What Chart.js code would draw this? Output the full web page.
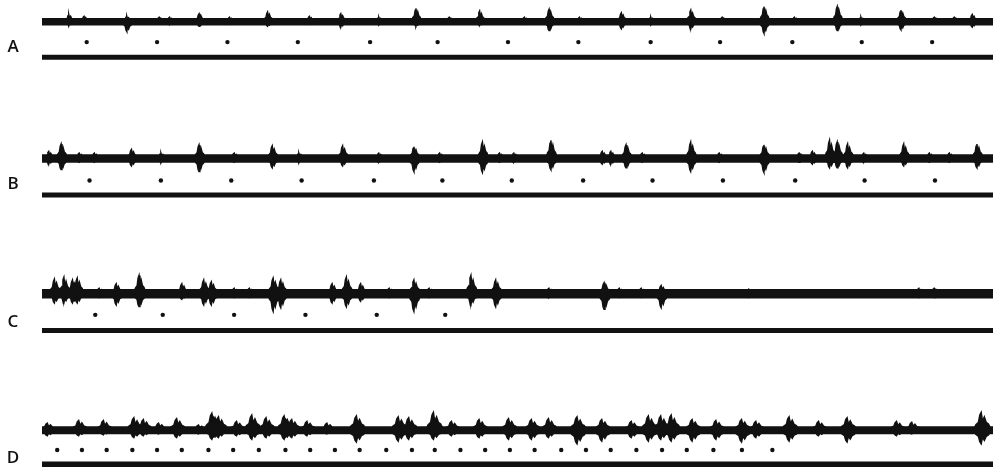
<!DOCTYPE html>
<html>
<head>
<meta charset="utf-8">
<script src="https://cdn.jsdelivr.net/npm/chart.js@4/dist/chart.umd.min.js"></script>
<style>
  html, body { margin: 0; padding: 0; background: #fff; }
  body { width: 998px; height: 471px; position: relative; overflow: hidden; }
  canvas { position: absolute; left: 0; }
  .lbl { position: absolute; width: 24px; text-align: center; font-family: 'Open Sans', sans-serif;
         font-size: 17px; font-weight: 600; color: #111; line-height: 17px; }
</style>
</head>
<body>
<div id="wrap"></div>
<script>
'use strict';

// x = position along the sweep, in % of sweep length
// y = deflection from the trace midline

const panelLabels = ['A', 'B', 'C', 'D'];

const sweepStart = 0;
const sweepEnd = 100;

// --- A ---
const aDotTimes = [4.7, 12.1, 19.5, 26.9, 34.5, 41.6, 49.0, 56.4, 64.0, 71.3, 78.9, 86.2, 93.6];
const aBurstTimes = [2.9, 4.5, 9.0, 12.4, 13.5, 16.6, 19.8, 23.8, 28.2, 31.5, 35.5, 39.4, 42.9, 46.1, 50.8,
  53.4, 56.6, 61.0, 64.1, 68.3, 71.6, 76.0, 79.2, 83.7, 86.2, 90.4, 93.9, 96.0, 97.9];
const aBurstUp = [8, 6, 6, 5, 5, 9, 5, 11, 6, 9, 5, 15, 5, 12, 5, 14, 5, 10, 5, 13, 5, 17, 5, 17, 5, 13, 5, 5, 8];
const aBurstDown = [4, 3, 11, 3, 3, 5, 3, 5, 3, 6, 3, 5, 3, 4, 3, 10, 3, 8, 3, 8, 3, 13, 3, 10, 3, 9, 3, 3, 6];

// --- B ---
const bDotTimes = [5.0, 12.5, 19.9, 27.3, 34.9, 42.1, 49.4, 56.9, 64.2, 71.6, 79.2, 86.5, 93.9];
const bBurstTimes = [0.8, 2.1, 4.0, 5.6, 9.5, 12.6, 16.6, 20.3, 24.3, 27.1, 31.7, 35.5, 39.2, 41.9, 46.4,
  48.2, 49.7, 53.6, 59.0, 59.9, 61.5, 63.2, 68.3, 71.3, 76.0, 79.7, 81.1, 82.9, 83.7, 84.8,
  86.5, 90.7, 93.4, 95.5, 98.4];
const bBurstUp = [8, 16, 6, 6, 10, 6, 15, 6, 14, 6, 14, 6, 13, 6, 18, 6, 6, 20, 8, 8,
  15, 6, 18, 6, 15, 6, 8, 20, 18, 16, 6, 16, 6, 6, 16];
const bBurstDown = [6, 12, 4, 4, 8, 4, 14, 4, 10, 4, 8, 4, 14, 4, 15, 4, 4, 12, 6, 6,
  10, 4, 14, 4, 15, 4, 6, 10, 10, 10, 4, 8, 4, 4, 10];

// --- C ---
const cDotTimes = [5.6, 12.7, 20.2, 27.7, 35.2, 42.4];
const cBurstTimes = [1.4, 2.4, 3.3, 3.8, 6.1, 7.9, 10.3, 14.8, 17.1, 17.9, 20.3, 21.9, 24.4, 25.2, 30.6,
  32.1, 33.6, 36.6, 39.2, 40.8, 45.2, 47.8, 53.4, 59.2, 60.8, 63.1, 65.2, 74.4, 92.3, 93.9];
const cBurstUp = [16, 18, 15, 17, 6, 11, 20, 11, 15, 13, 6, 6, 17, 15, 11, 18, 11, 6, 15, 6,
  20, 15, 6, 12, 6, 6, 9, 5, 6, 6];
const cBurstDown = [10, 10, 10, 10, 4, 12, 14, 6, 12, 12, 4, 4, 19, 15, 10, 14, 8, 4, 19, 4,
  12, 14, 4, 17, 4, 4, 15, 4, 4, 4];

// --- D ---
const dDotTimes = [1.6, 4.2, 6.8, 9.5, 12.1, 14.7, 17.5, 20.1, 22.8, 25.6, 28.2, 30.8, 33.4, 36.2, 38.9,
  41.3, 44.0, 46.6, 49.2, 51.8, 54.6, 57.2, 59.8, 62.5, 65.2, 67.8, 70.6, 73.6, 76.8];
const dBurstTimes = [0.7, 4.0, 6.6, 9.8, 10.8, 12.4, 14.3, 16.6, 18.0, 18.7, 20.6, 22.2, 23.7, 25.6, 26.4,
  28.0, 30.1, 33.2, 37.6, 38.7, 41.3, 43.2, 46.1, 49.2, 51.6, 53.4, 56.4, 59.0, 62.1, 63.9,
  65.2, 66.3, 68.5, 71.0, 73.7, 75.2, 78.7, 81.8, 84.8, 90.0, 91.6, 98.9];
const dBurstUp = [8, 11, 11, 14, 12, 8, 13, 6, 19, 15, 10, 17, 14, 16, 12, 10, 8, 16, 15, 14,
  20, 10, 12, 13, 12, 13, 15, 12, 10, 16, 16, 17, 12, 11, 12, 10, 15, 10, 14, 10, 9, 20];
const dBurstDown = [6, 6, 5, 8, 6, 4, 8, 4, 10, 8, 6, 10, 8, 10, 8, 6, 4, 13, 12, 10,
  10, 6, 8, 10, 10, 8, 15, 12, 8, 12, 10, 12, 12, 10, 13, 8, 12, 6, 13, 6, 4, 15];


// layout / style per panel (not data)
const panels = [
  { dots: aDotTimes, times: aBurstTimes, up: aBurstUp, down: aBurstDown,
    top: 0, height: 70, yMax: 20, dotRow: -23, baseRow: -40, traceW: 7.5, baseW: 5, halfW: 0.55, labelY: 45 },
  { dots: bDotTimes, times: bBurstTimes, up: bBurstUp, down: bBurstDown,
    top: 120, height: 90, yMax: 38, dotRow: -24, baseRow: -40, traceW: 8.5, baseW: 5, halfW: 0.6, labelY: 182 },
  { dots: cDotTimes, times: cBurstTimes, up: cBurstUp, down: cBurstDown,
    top: 255, height: 95, yMax: 38, dotRow: -23, baseRow: -40, traceW: 9.5, baseW: 5, halfW: 0.65, labelY: 320 },
  { dots: dDotTimes, times: dBurstTimes, up: dBurstUp, down: dBurstDown,
    top: 395, height: 76, yMax: 35, dotRow: -22, baseRow: -38, traceW: 8, baseW: 5.5, halfW: 0.95, labelY: 456 }
];

// outline of one burst glyph: [fraction of half width, fraction of amplitude]
const burstShape = [[-1, 0], [-0.75, 0.3], [-0.45, 0.45], [-0.3, 0.85], [-0.15, 1], [0, 0.5],
  [0.2, 0.75], [0.4, 0.45], [0.65, 0.35], [1, 0]];

function burstPoints(times, amps, halfW, sign) {
  const pts = [];
  for (let i = 0; i < times.length; i++) {
    for (const s of burstShape) {
      pts.push({ x: times[i] + s[0] * halfW, y: s[1] * amps[i] * sign });
    }
    pts.push({ x: times[i], y: null });
  }
  return pts;
}


function renderPanel(p, idx) {
  const wrap = document.getElementById('wrap');
  const canvas = document.createElement('canvas');
  canvas.width = 998;
  canvas.height = p.height;
  canvas.style.top = p.top + 'px';
  wrap.appendChild(canvas);

  const label = document.createElement('div');
  label.className = 'lbl';
  label.textContent = panelLabels[idx];
  label.style.left = '1px';
  label.style.top = (p.labelY - 8) + 'px';
  wrap.appendChild(label);

  const ink = '#111';

  new Chart(canvas.getContext('2d'), {
    type: 'line',
    data: {
      datasets: [
        {
          data: [{ x: sweepStart, y: 0 }, { x: sweepEnd, y: 0 }],
          borderColor: ink, borderWidth: p.traceW, borderCapStyle: 'round', pointRadius: 0
        },
        {
          data: burstPoints(p.times, p.up, p.halfW, 1),
          borderColor: ink, backgroundColor: ink, borderWidth: 1.5, fill: 'origin',
          spanGaps: false, pointRadius: 0
        },
        {
          data: burstPoints(p.times, p.down, p.halfW, -1),
          borderColor: ink, backgroundColor: ink, borderWidth: 1.5, fill: 'origin',
          spanGaps: false, pointRadius: 0
        },
        {
          data: p.dots.map(t => ({ x: t, y: p.dotRow })),
          showLine: false, pointRadius: 2.2, pointBackgroundColor: ink, pointBorderWidth: 0
        },
        {
          data: [{ x: sweepStart, y: p.baseRow }, { x: sweepEnd, y: p.baseRow }],
          borderColor: ink, borderWidth: p.baseW, pointRadius: 0
        }
      ]
    },
    options: {
      responsive: false,
      animation: false,
      layout: { padding: { left: 42, right: 5, top: 0, bottom: 0 } },
      plugins: { legend: { display: false }, tooltip: { enabled: false } },
      scales: {
        x: { type: 'linear', min: sweepStart, max: sweepEnd, display: false },
        y: { type: 'linear', min: p.yMax - p.height, max: p.yMax, display: false }
      }
    }
  });
}

panels.forEach(renderPanel);
</script>
</body>
</html>
